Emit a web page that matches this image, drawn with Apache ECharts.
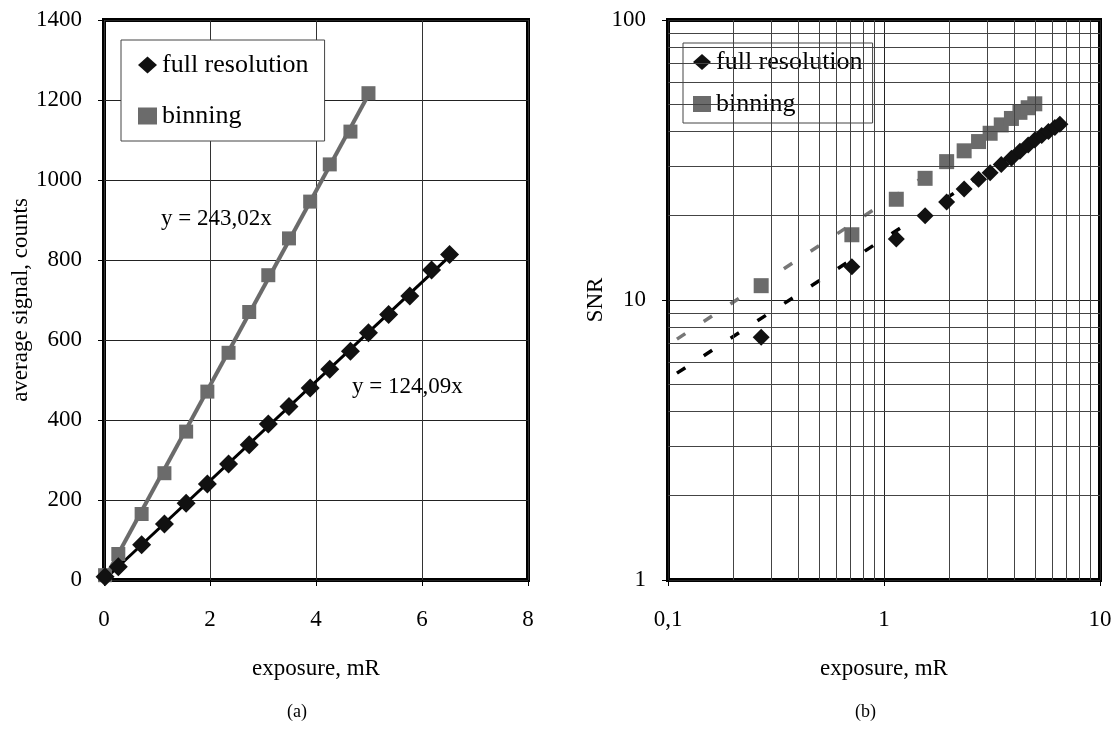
<!DOCTYPE html>
<html>
<head>
<meta charset="utf-8">
<script src="https://cdn.jsdelivr.net/npm/echarts@6/dist/echarts.min.js"></script>
<style>
html,body{margin:0;padding:0;background:#fff;}
#chart{width:1115px;height:731px;}
</style>
</head>
<body>
<div id="chart"></div>
<script>
// ---- data ----
var exposure = [0.02, 0.27, 0.71, 1.14, 1.55, 1.95, 2.35, 2.74, 3.10, 3.49, 3.89, 4.26, 4.65, 4.99, 5.37, 5.77, 6.18, 6.52];
var signalFull = [8, 33, 88, 140, 192, 240, 290, 338, 390, 434, 480, 527, 572, 618, 664, 710, 775, 814];
var signalBinning = [12, 65, 165, 267, 371, 471, 568, 670, 762, 854, 946, 1039, 1121, 1217];
var snrFull = [null, 7.36, 13.15, 16.5, 20.0, 22.4, 24.9, 27.0, 28.5, 30.5, 32.1, 34.0, 35.8, 37.3, 38.7, 40.0, 41.3, 42.4];
var snrBinning = [null, 11.25, 17.1, 22.9, 27.2, 31.2, 34.1, 36.8, 39.4, 42.2, 44.5, 46.8, 48.6, 50.2];
// trend lines (endpoints)
var trendSignalFull = [[0, 0], [6.52, 809]];
var trendSignalBinning = [[0, 0], [4.99, 1213]];
var trendSnrFull = [[0.11, 5.48], [6.52, 42.4]];
var trendSnrBinning = [[0.11, 7.25], [4.99, 50.2]];
// tick / grid values
var logMinorX = [0.2,0.3,0.4,0.5,0.6,0.7,0.8,0.9,2,3,4,5,6,7,8,9];
var logMinorY = [2,3,4,5,6,7,8,9,20,30,40,50,60,70,80,90];
var eqFull = 'y = 124,09x';
var eqBinning = 'y = 243,02x';

function pairs(xs, ys) {
  var out = [];
  for (var i = 0; i < ys.length; i++) {
    if (ys[i] !== null) out.push([xs[i], ys[i]]);
  }
  return out;
}

var FONT = 'Liberation Serif';
var BLACK = '#111111';
var GREY = '#6b6b6b';
var txt = {fontFamily: FONT, fontSize: 23, color: '#000'};
var plain = function (v) { return String(v).replace('.', ','); };

var chart = echarts.init(document.getElementById('chart'), null, {renderer: 'canvas'});

var legendText = {fontFamily: FONT, fontSize: 26, color: '#000'};

var option = {
  backgroundColor: '#fff',
  animation: false,
  textStyle: {fontFamily: FONT},
  grid: [
    {left: 104, top: 20, width: 424, height: 560, show: true, borderColor: '#000', borderWidth: 4, backgroundColor: '#fff'},
    {left: 668, top: 20, width: 432, height: 560, show: true, borderColor: '#000', borderWidth: 4, backgroundColor: '#fff'}
  ],
  legend: [
    {
      left: 121, top: 40, orient: 'vertical',
      padding: [12, 16, 12, 17], itemGap: 25, itemWidth: 19, itemHeight: 17,
      backgroundColor: '#fff', borderColor: '#444', borderWidth: 1,
      textStyle: legendText,
      data: [{name: 'full resolution', icon: 'diamond'}, {name: 'binning', icon: 'rect'}],
      selectedMode: false
    },
    {
      left: 683, top: 43, orient: 'vertical',
      padding: [6, 10, 6, 10], itemGap: 16, itemWidth: 18, itemHeight: 16,
      backgroundColor: '#fff', borderColor: '#444', borderWidth: 1,
      textStyle: legendText,
      data: [{name: 'full resolution', icon: 'diamond'}, {name: 'binning', icon: 'rect'}],
      selectedMode: false
    }
  ],
  xAxis: [
    {
      gridIndex: 0, type: 'value', min: 0, max: 8, interval: 2,
      axisLine: {show: false},
      axisTick: {show: true, length: 6, lineStyle: {color: '#000'}},
      axisLabel: Object.assign({margin: 28, formatter: plain}, txt),
      splitLine: {show: true, lineStyle: {color: '#333', width: 1}},
      name: 'exposure, mR', nameLocation: 'middle', nameGap: 77, nameTextStyle: txt
    },
    {
      gridIndex: 1, type: 'log', min: 0.1, max: 10, logBase: 10,
      axisLine: {show: false},
      axisTick: {show: true, length: 6, lineStyle: {color: '#000'}},
      axisLabel: Object.assign({margin: 28, formatter: plain}, txt),
      splitLine: {show: true, lineStyle: {color: '#222', width: 1}},
      name: 'exposure, mR', nameLocation: 'middle', nameGap: 77, nameTextStyle: txt
    }
  ],
  yAxis: [
    {
      gridIndex: 0, type: 'value', min: 0, max: 1400, interval: 200,
      axisLine: {show: false},
      axisTick: {show: true, length: 6, lineStyle: {color: '#000'}},
      axisLabel: Object.assign({margin: 22, formatter: plain}, txt),
      splitLine: {show: true, lineStyle: {color: '#222', width: 1}},
      name: 'average signal, counts', nameLocation: 'middle', nameGap: 62, nameTextStyle: txt
    },
    {
      gridIndex: 1, type: 'log', min: 1, max: 100, logBase: 10,
      axisLine: {show: false},
      axisTick: {show: true, length: 6, lineStyle: {color: '#000'}},
      axisLabel: Object.assign({margin: 22, formatter: plain}, txt),
      splitLine: {show: true, lineStyle: {color: '#222', width: 1}},
      name: 'SNR', nameLocation: 'middle', nameGap: 60, nameTextStyle: txt
    }
  ],
  series: [
    // log grid minor lines (right panel)
    {
      name: 'grid', type: 'line', xAxisIndex: 1, yAxisIndex: 1, data: [], silent: true, z: 1,
      markLine: {
        silent: true, symbol: 'none', label: {show: false}, animation: false,
        lineStyle: {type: 'solid', color: '#444', width: 1},
        data: logMinorX.map(function (v) { return {xAxis: v}; }).concat(logMinorY.map(function (v) { return {yAxis: v}; }))
      }
    },
    // left: trend lines
    {
      name: 'trendBinA', type: 'line', xAxisIndex: 0, yAxisIndex: 0, data: trendSignalBinning,
      showSymbol: false, symbol: 'none', lineStyle: {color: GREY, width: 4}, z: 3
    },
    {
      name: 'trendFullA', type: 'line', xAxisIndex: 0, yAxisIndex: 0, data: trendSignalFull,
      showSymbol: false, symbol: 'none', lineStyle: {color: '#000', width: 3}, z: 3
    },
    // left: points
    {
      name: 'binning', type: 'scatter', xAxisIndex: 0, yAxisIndex: 0,
      data: pairs(exposure, signalBinning), symbol: 'rect', symbolSize: 14,
      itemStyle: {color: GREY, opacity: 1}, z: 4
    },
    {
      name: 'full resolution', type: 'scatter', xAxisIndex: 0, yAxisIndex: 0,
      data: pairs(exposure, signalFull), symbol: 'diamond', symbolSize: 19,
      itemStyle: {color: BLACK, opacity: 1}, z: 5
    },
    // right: trend lines (dashed)
    {
      name: 'trendBinB', type: 'line', xAxisIndex: 1, yAxisIndex: 1, data: trendSnrBinning,
      showSymbol: false, symbol: 'none', lineStyle: {color: '#777', width: 3.5, type: [10, 22]}, z: 3
    },
    {
      name: 'trendFullB', type: 'line', xAxisIndex: 1, yAxisIndex: 1, data: trendSnrFull,
      showSymbol: false, symbol: 'none', lineStyle: {color: '#000', width: 3.5, type: [10, 22]}, z: 3
    },
    // right: points
    {
      name: 'binning', type: 'scatter', xAxisIndex: 1, yAxisIndex: 1,
      data: pairs(exposure, snrBinning), symbol: 'rect', symbolSize: 15,
      itemStyle: {color: GREY, opacity: 1}, z: 4
    },
    {
      name: 'full resolution', type: 'scatter', xAxisIndex: 1, yAxisIndex: 1,
      data: pairs(exposure, snrFull), symbol: 'diamond', symbolSize: 17,
      itemStyle: {color: BLACK, opacity: 1}, z: 5
    }
  ],
  graphic: [
    {type: 'text', left: 161, top: 207, z: 10, style: {text: eqBinning, fontFamily: FONT, fontSize: 23, fill: '#000'}},
    {type: 'text', left: 352, top: 375, z: 10, style: {text: eqFull, fontFamily: FONT, fontSize: 23, fill: '#000'}},
    {type: 'text', left: 287, top: 703, z: 10, style: {text: '(a)', fontFamily: FONT, fontSize: 18, fill: '#000'}},
    {type: 'text', left: 855, top: 703, z: 10, style: {text: '(b)', fontFamily: FONT, fontSize: 18, fill: '#000'}}
  ]
};

chart.setOption(option);
</script>
</body>
</html>
